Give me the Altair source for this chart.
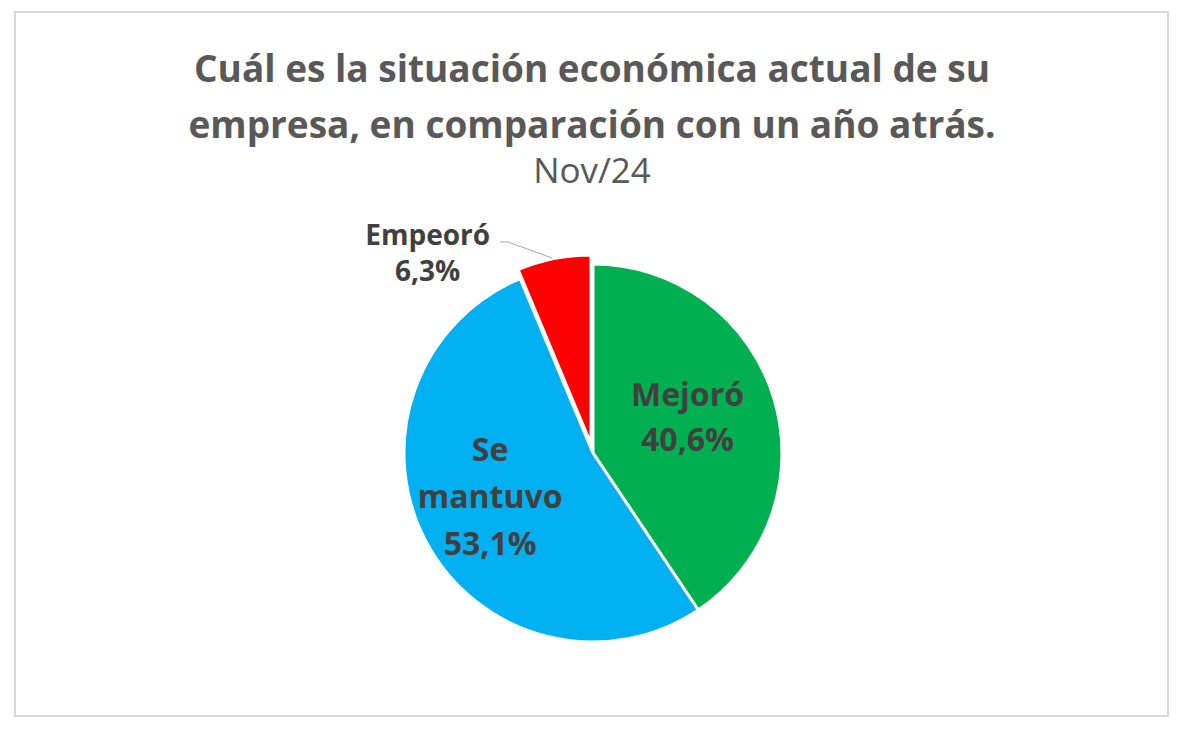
import altair as alt
import pandas as pd

categories = ["Mejoró", "Se mantuvo", "Empeoró"]
values = [40.6, 53.1, 6.3]
labels = ["Mejoró\n40,6%", "Se\nmantuvo\n53,1%", "Empeoró\n6,3%"]
colors = ["#00B050", "#00B0F0", "#FF0000"]
order = [0, 1, 2]

df = pd.DataFrame({"cat": categories, "value": values, "label": labels, "ord": order})

CX, CY = 593, 453
R = 189
FONT = "Open Sans"
TXT = "#404040"

base = alt.Chart(df).transform_stack(
    stack="value", groupby=[], as_=["t0", "t1"], sort=[alt.SortField("ord")]
).transform_calculate(mid="(datum.t0 + datum.t1) / 2")

theta_scale = alt.Scale(domain=[0, 100])
color_enc = alt.Color("cat:N", scale=alt.Scale(domain=categories, range=colors), legend=None)

border = alt.Chart(alt.Data(values=[{}])).mark_rect(
    fill="white", stroke="#D9D9D9", strokeWidth=2
).encode(x=alt.value(15), x2=alt.value(1168), y=alt.value(12), y2=alt.value(716))

arcs_main = base.transform_filter(alt.datum.cat != "Empeoró").mark_arc(
    stroke="white", strokeWidth=3
).encode(
    theta=alt.Theta("t0:Q", scale=theta_scale),
    theta2="t1:Q",
    color=color_enc,
    radius=alt.value(R),
    x=alt.value(CX), y=alt.value(CY),
)

arc_exploded = base.transform_filter(alt.datum.cat == "Empeoró").mark_arc(
    stroke="white", strokeWidth=3, xOffset=-2, yOffset=-9
).encode(
    theta=alt.Theta("t0:Q", scale=theta_scale),
    theta2="t1:Q",
    color=color_enc,
    radius=alt.value(R),
    x=alt.value(CX), y=alt.value(CY),
)

lab_m = base.transform_filter(alt.datum.cat == "Mejoró").mark_text(
    font=FONT, fontSize=32, fontWeight="bold", color=TXT, lineBreak="\n",
    lineHeight=45, align="center", baseline="middle", dx=-5, dy=-27
).encode(theta=alt.Theta("mid:Q", scale=theta_scale), radius=alt.value(104),
         text="label:N", x=alt.value(CX), y=alt.value(CY))

lab_s = base.transform_filter(alt.datum.cat == "Se mantuvo").mark_text(
    font=FONT, fontSize=32, fontWeight="bold", color=TXT, lineBreak="\n",
    lineHeight=47, align="center", baseline="middle", dx=-6, dy=-54
).encode(theta=alt.Theta("mid:Q", scale=theta_scale), radius=alt.value(110),
         text="label:N", x=alt.value(CX), y=alt.value(CY))

lab_e = base.transform_filter(alt.datum.cat == "Empeoró").mark_text(
    font=FONT, fontSize=28, fontWeight="bold", color=TXT, lineBreak="\n",
    lineHeight=36, align="center", baseline="middle", dx=-126, dy=-20
).encode(theta=alt.Theta("mid:Q", scale=theta_scale), radius=alt.value(200),
         text="label:N", x=alt.value(CX), y=alt.value(CY))

leader1 = alt.Chart(alt.Data(values=[{}])).mark_rule(color="#A6A6A6", strokeWidth=1).encode(
    x=alt.value(500), x2=alt.value(508), y=alt.value(242), y2=alt.value(242))
leader2 = alt.Chart(alt.Data(values=[{}])).mark_rule(color="#A6A6A6", strokeWidth=1).encode(
    x=alt.value(508), x2=alt.value(552), y=alt.value(242), y2=alt.value(258))

chart = alt.layer(
    border, arcs_main, arc_exploded, leader1, leader2, lab_m, lab_s, lab_e
).properties(
    width=1200, height=739,
    autosize=alt.AutoSizeParams(type="none"),
    padding=0,
    title=alt.TitleParams(
        text=["Cuál es la situación económica actual de su",
              "empresa, en comparación con un año atrás."],
        subtitle="Nov/24",
        font=FONT, fontSize=37, fontWeight="bold", color="#595959", lineHeight=56,
        subtitleFont=FONT, subtitleFontSize=35, subtitleColor="#595959",
        subtitleFontWeight="normal", subtitlePadding=9,
        anchor="middle", frame="group", offset=-191, dx=-8,
    ),
).configure_view(stroke=None)

chart.save("out.html", embed_options={"renderer": "svg", "actions": False})
